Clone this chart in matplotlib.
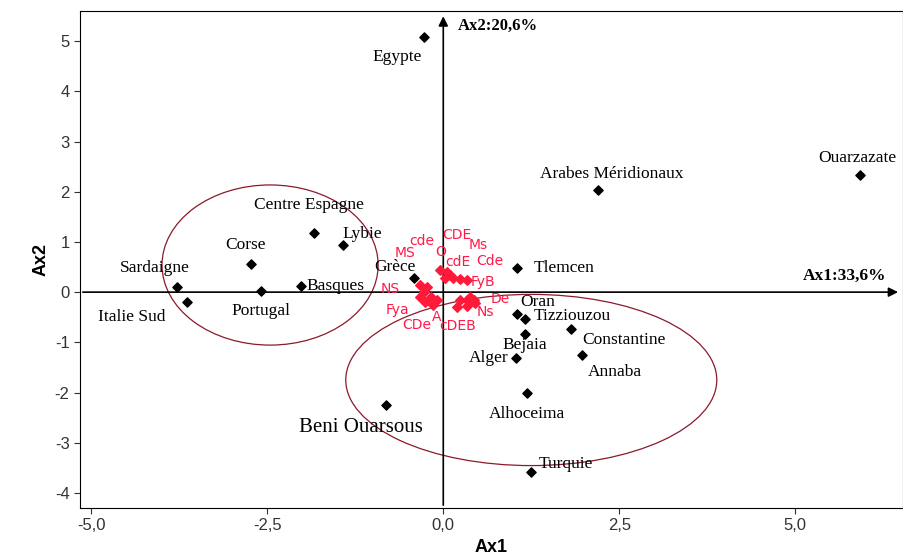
import matplotlib.pyplot as plt
from matplotlib.patches import Ellipse

plt.rcParams['axes.unicode_minus'] = False

# populations (black diamonds)
pops = ['Egypte', 'Ouarzazate', 'Arabes Méridionaux', 'Tlemcen', 'Centre Espagne',
        'Lybie', 'Corse', 'Grèce', 'Sardaigne', 'Italie Sud', 'Portugal', 'Basques',
        'Beni Ouarsous', 'Oran', 'Tizziouzou', 'Bejaia', 'Alger', 'Constantine',
        'Annaba', 'Alhoceima', 'Turquie']
pop_x = [-0.27, 5.92, 2.20, 1.05, -1.83, -1.42, -2.73, -0.41, -3.78, -3.64, -2.59, -2.02,
         -0.82, 1.05, 1.16, 1.16, 1.04, 1.82, 1.97, 1.19, 1.24]
pop_y = [5.08, 2.33, 2.03, 0.48, 1.18, 0.94, 0.56, 0.28, 0.10, -0.20, 0.02, 0.12,
         -2.25, -0.44, -0.54, -0.84, -1.31, -0.74, -1.26, -2.01, -3.59]
# label offsets in points (dx, dy, ha)
pop_off = [(-2, -14, 'right'), (-2, 12, 'center'), (10, 12, 'center'), (12, 0, 'left'),
           (-4, 20, 'center'), (14, 8, 'center'), (-4, 14, 'center'), (-14, 8, 'center'),
           (-16, 14, 'center'), (-40, -11, 'center'), (0, -14, 'center'), (4, 0, 'left'),
           (-18, -16, 'center'), (2, 9, 'left'), (6, 2, 'left'), (0, -8, 'center'),
           (-6, 0, 'right'), (8, -8, 'left'), (4, -12, 'left'), (0, -15, 'center'),
           (6, 6, 'left')]

# haplotypes (red diamonds)
hap_x = [-0.04, 0.06, 0.10, 0.14, 0.24, 0.34, 0.03,
         -0.33, -0.23, -0.28, -0.18, -0.09, -0.33, -0.26, -0.14,
         0.24, 0.34, 0.43, 0.20, 0.34, 0.45, 0.38]
hap_y = [0.44, 0.40, 0.34, 0.28, 0.26, 0.24, 0.28,
         0.14, 0.10, 0.00, -0.10, -0.16, -0.10, -0.20, -0.26,
         -0.16, -0.16, -0.16, -0.30, -0.28, -0.22, -0.10]
hap_lab = ['cde', 'CDE', 'Ms', 'MS', 'O', 'cdE', 'Cde', 'FyB', 'NS', 'De', 'Ns',
           'Fya', 'A', 'CDe', 'cDEB']
hap_lab_x = [-0.30, 0.20, 0.50, -0.55, -0.03, 0.21, 0.66, 0.56, -0.75, 0.81, 0.60,
             -0.65, -0.10, -0.37, 0.20]
hap_lab_y = [1.02, 1.13, 0.93, 0.77, 0.80, 0.61, 0.63, 0.21, 0.06, -0.14, -0.40,
             -0.36, -0.50, -0.66, -0.68]

fig = plt.figure(figsize=(9.04, 5.6), dpi=100)
ax = fig.add_axes([80 / 904, 1 - 508 / 560, 823 / 904, 497 / 560])
ax.set_xlim(-5.16, 6.53)
ax.set_ylim(-4.3, 5.6)

# ellipses
ax.add_patch(Ellipse((-2.46, 0.54), 3.07, 3.19, fill=False, color='#8b1a2a', lw=0.9))
ax.add_patch(Ellipse((1.25, -1.75), 5.27, 3.41, fill=False, color='#8b1a2a', lw=0.9))

# central axes with arrows
ax.annotate('', xy=(6.5, 0), xytext=(-5.16, 0),
            arrowprops=dict(arrowstyle='-|>', color='black', lw=1.2, mutation_scale=14))
ax.annotate('', xy=(0, 5.55), xytext=(0, -4.3),
            arrowprops=dict(arrowstyle='-|>', color='black', lw=1.2, mutation_scale=14))
ax.text(6.3, 0.16, 'Ax1:33,6%', fontsize=12.5, fontweight='bold', family='Liberation Serif',
        ha='right', va='bottom')
ax.text(0.2, 5.3, 'Ax2:20,6%', fontsize=12, fontweight='bold', family='Liberation Serif',
        ha='left', va='center')

ax.scatter(pop_x, pop_y, marker='D', s=22, color='black', zorder=3)
for name, x, y, (dx, dy, ha) in zip(pops, pop_x, pop_y, pop_off):
    fs = 15 if name == 'Beni Ouarsous' else 12.5
    ax.annotate(name, (x, y), xytext=(dx, dy), textcoords='offset points',
                ha=ha, va='center', fontsize=fs, family='Liberation Serif')

ax.scatter(hap_x, hap_y, marker='D', s=24, color='#ff1a3a', zorder=3)
for t, x, y in zip(hap_lab, hap_lab_x, hap_lab_y):
    ax.text(x, y, t, color='#ff1a4a', fontsize=10, ha='center', va='center',
            family='DejaVu Sans')

ax.set_xticks([-5, -2.5, 0, 2.5, 5])
ax.set_xticklabels(['-5,0', '-2,5', '0,0', '2,5', '5,0'])
ax.set_yticks(range(-4, 6))
ax.tick_params(labelsize=12, colors='#333333', length=4)
for lab in ax.get_xticklabels() + ax.get_yticklabels():
    lab.set_family('Liberation Sans')
ax.set_xlabel('Ax1', fontsize=13, fontweight='bold', family='Liberation Sans')
ax.set_ylabel('Ax2', fontsize=13, fontweight='bold', family='Liberation Sans')

fig.savefig('out.png', dpi=100)
